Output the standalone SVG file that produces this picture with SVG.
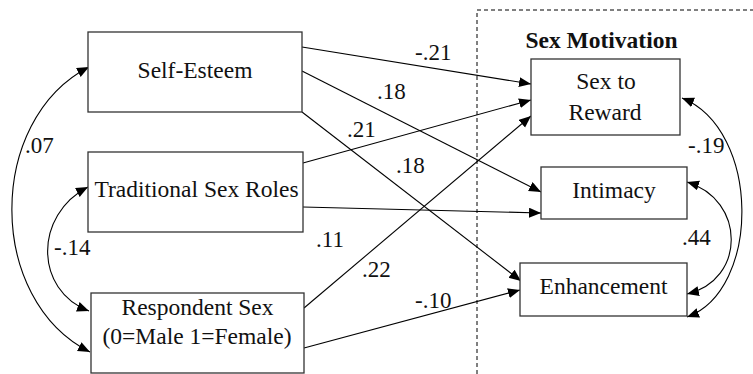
<svg xmlns="http://www.w3.org/2000/svg" width="753" height="374" viewBox="0 0 753 374">
<style>
.box{fill:#fff;stroke:#333;stroke-width:1.3}
.t{font-family:'Liberation Serif','Times New Roman','DejaVu Serif',serif;font-size:23.5px;fill:#111;text-anchor:middle}
.lab{font-family:'Liberation Serif','Times New Roman','DejaVu Serif',serif;font-size:23px;fill:#111}
.ln{fill:none;stroke:#000;stroke-width:1.1}
</style>
<defs>
<marker id="ah" markerUnits="userSpaceOnUse" markerWidth="13" markerHeight="11" refX="12" refY="5" orient="auto-start-reverse">
<path d="M0,0 L12,5 L0,10 z" fill="#000"/>
</marker>
</defs>
<rect width="753" height="374" fill="#fff"/>
<path d="M477,374 V10 H753" fill="none" stroke="#000" stroke-width="1" stroke-dasharray="4,3"/>
<text class="t" x="601.5" y="48" font-weight="bold">Sex Motivation</text>
<g id="connectors">
<path class="ln" marker-end="url(#ah)" d="M302,47 L531,84"/>
<path class="ln" marker-end="url(#ah)" d="M302,71 L541,192"/>
<path class="ln" marker-end="url(#ah)" d="M302,112 L521,281"/>
<path class="ln" marker-end="url(#ah)" d="M303,163 L531,100"/>
<path class="ln" marker-end="url(#ah)" d="M303,207 L541,213"/>
<path class="ln" marker-end="url(#ah)" d="M304,308 L531,116"/>
<path class="ln" marker-end="url(#ah)" d="M304,348 L520,290"/>
<path class="ln" marker-start="url(#ah)" marker-end="url(#ah)" d="M89,67 C-14,120 -14,300 90,352"/>
<path class="ln" marker-start="url(#ah)" marker-end="url(#ah)" d="M88,187 C34,215 34,290 89,311"/>
<path class="ln" marker-start="url(#ah)" marker-end="url(#ah)" d="M682,98 C761,130 761,290 687,317"/>
<path class="ln" marker-start="url(#ah)" marker-end="url(#ah)" d="M687,182 C746,200 746,280 687,294"/>
<text class="lab" x="415" y="60">-.21</text>
<text class="lab" x="377" y="99">.18</text>
<text class="lab" x="347" y="137">.21</text>
<text class="lab" x="396" y="173">.18</text>
<text class="lab" x="316" y="247">.11</text>
<text class="lab" x="362" y="277">.22</text>
<text class="lab" x="415" y="308">-.10</text>
<text class="lab" x="25" y="153">.07</text>
<text class="lab" x="54" y="255">-.14</text>
<text class="lab" x="688" y="153">-.19</text>
<text class="lab" x="682" y="245">.44</text>
</g>
<g id="self-esteem"><rect class="box" x="88" y="32" width="214" height="80"/><text class="t" x="195" y="78">Self-Esteem</text></g>
<g id="traditional-sex-roles"><rect class="box" x="88" y="152" width="215" height="80"/><text class="t" x="196.5" y="197">Traditional Sex Roles</text></g>
<g id="respondent-sex"><rect class="box" x="91" y="293" width="213" height="80"/><text class="t" x="197.5" y="315">Respondent Sex</text><text class="t" x="197" y="344">(0=Male 1=Female)</text></g>
<g id="sex-to-reward"><rect class="box" x="531" y="59" width="149" height="76"/><text class="t" x="606" y="89">Sex to</text><text class="t" x="605" y="120">Reward</text></g>
<g id="intimacy"><rect class="box" x="541" y="167" width="146" height="52"/><text class="t" x="614" y="198">Intimacy</text></g>
<g id="enhancement"><rect class="box" x="520" y="263" width="167" height="53"/><text class="t" x="603.5" y="294">Enhancement</text></g>
</svg>
